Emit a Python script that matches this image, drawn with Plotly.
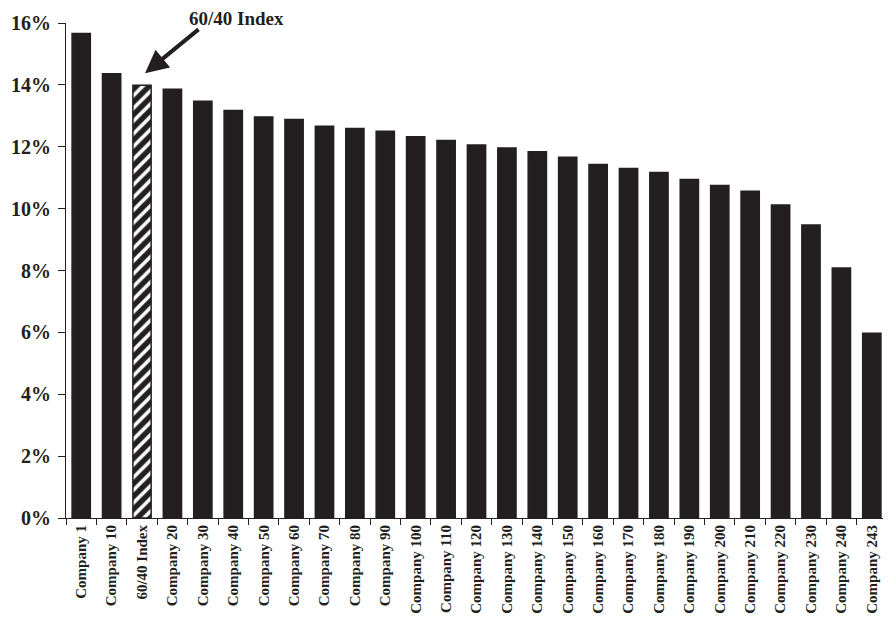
import plotly.graph_objects as go

categories = ["Company 1", "Company 10", "60/40 Index", "Company 20", "Company 30",
              "Company 40", "Company 50", "Company 60", "Company 70", "Company 80",
              "Company 90", "Company 100", "Company 110", "Company 120", "Company 130",
              "Company 140", "Company 150", "Company 160", "Company 170", "Company 180",
              "Company 190", "Company 200", "Company 210", "Company 220", "Company 230",
              "Company 240", "Company 243"]
returns_pct = [15.66, 14.36, 13.99, 13.86, 13.47, 13.17, 12.96, 12.88, 12.66, 12.59,
               12.50, 12.32, 12.20, 12.06, 11.96, 11.84, 11.66, 11.43, 11.30, 11.17,
               10.94, 10.75, 10.56, 10.12, 9.47, 8.08, 5.97]
highlight = "60/40 Index"
y_ticks = [0, 2, 4, 6, 8, 10, 12, 14, 16]

DARK = "#231f20"
FONT = "Liberation Serif"

shapes = ["/" if c == highlight else "" for c in categories]

fig = go.Figure()
fig.add_trace(go.Bar(
    x=categories,
    y=returns_pct,
    marker=dict(
        color=DARK,
        line=dict(color=DARK, width=1.5),
        pattern=dict(shape=shapes, fgcolor="white", fgopacity=1,
                     size=9, solidity=0.4, fillmode="overlay"),
    ),
    width=0.6,
))

# the page body adds an 8px offset; the figure is sized to fit the window
W, H = 883, 610
ML, MR, MT, MB = 58, 4, 15, 100
plot_w = W - ML - MR
plot_h = H - MT - MB

hi_idx = categories.index(highlight)
fig.add_annotation(
    x=highlight, y=returns_pct[hi_idx], xref="x", yref="y",
    xshift=3, yshift=12,
    text="", showarrow=True, arrowhead=2, arrowsize=1.15, arrowwidth=4,
    arrowcolor=DARK, ax=55, ay=-45, standoff=0,
)
fig.add_annotation(
    x=(236 - 66) / plot_w, y=1 + 4 / plot_h, xref="paper", yref="paper",
    text="60/40 Index", showarrow=False,
    font=dict(family=FONT, size=19, color=DARK, weight="bold"),
    xanchor="center", yanchor="middle",
)

fig.update_layout(
    width=W, height=H,
    margin=dict(l=ML, r=MR, t=MT, b=MB),
    paper_bgcolor="white", plot_bgcolor="white",
    font=dict(family=FONT, color=DARK, weight="bold"),
    showlegend=False,
    bargap=0.4,
)
fig.update_xaxes(
    type="category", range=[-0.5, len(categories) - 0.5], automargin=False,
    showline=True, linecolor=DARK, linewidth=1,
    ticks="outside", tickson="boundaries", ticklen=6, tickcolor=DARK,
    tickangle=-90, tickfont=dict(family=FONT, size=15, color=DARK, weight="bold"),
    showgrid=False,
)
fig.update_yaxes(
    range=[0, 16], tickvals=y_ticks, ticktext=[f"{v}%" for v in y_ticks],
    automargin=False,
    showline=True, linecolor=DARK, linewidth=1,
    ticks="outside", ticklen=7, tickcolor=DARK, ticklabelstandoff=3,
    tickfont=dict(family=FONT, size=20, color=DARK, weight="bold"),
    showgrid=False, zeroline=False,
)

fig.write_html("out.html")
